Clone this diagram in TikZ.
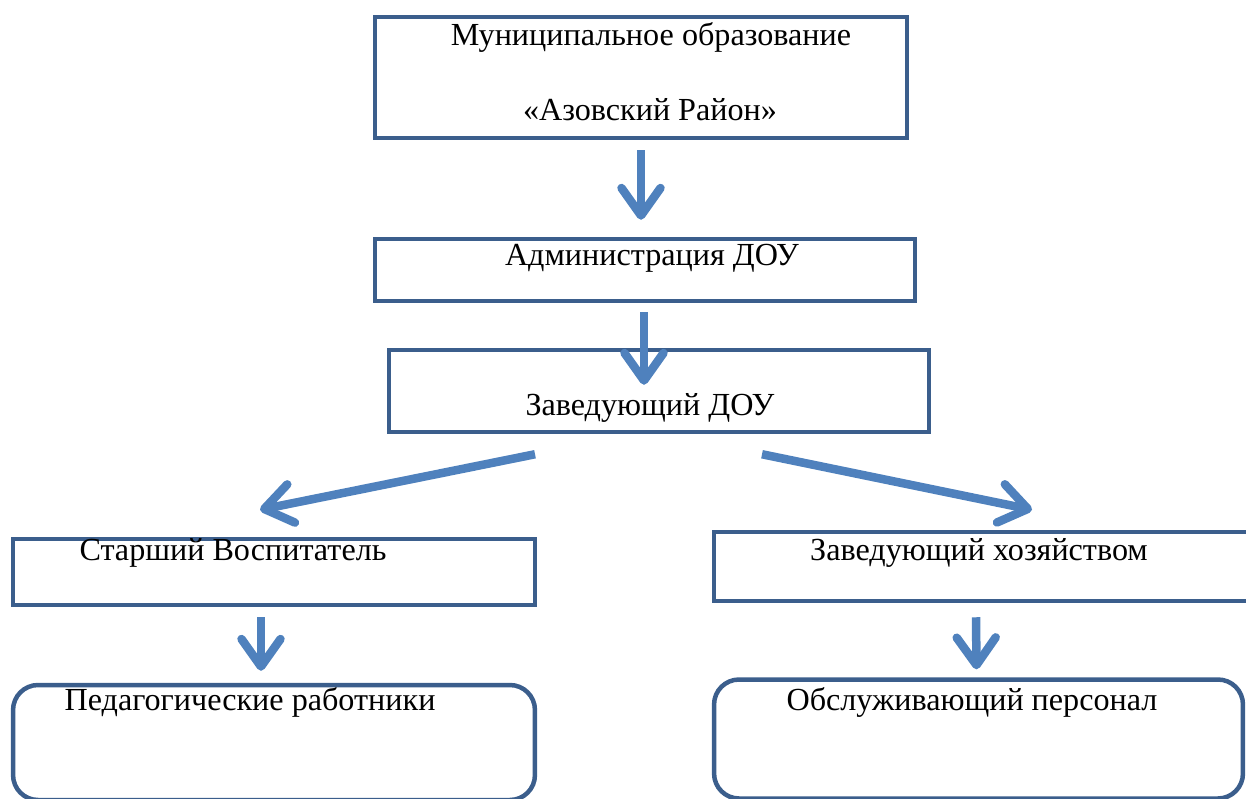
\documentclass[tikz,border=0pt]{standalone}
\usepackage{fontspec}
\setmainfont{Liberation Serif}
\usetikzlibrary{arrows.meta, positioning, calc}
\definecolor{boxblue}{RGB}{59,94,140}
\definecolor{arrblue}{RGB}{79,129,189}
\tikzset{
    box/.style={
        rectangle,
        draw=boxblue,
        line width=0.09cm,
        inner sep=0pt
    },
    roundbox/.style={
        box,
        rounded corners=0.5cm
    },
    caption/.style={
        font=\fontsize{18.3}{22}\selectfont,
        inner sep=0pt
    },
    link/.style={
        draw=arrblue,
        line width=0.17cm,
        -{Straight Barb[length=0.55cm, width=0.78cm, round]}
    }
}

\begin{document}
\begin{tikzpicture}[x=0.02cm, y=-0.02cm]
    \useasboundingbox (0,0) rectangle (1246,798);

    % Boxes
    \node (Municipality) [box, minimum width=10.64cm, minimum height=2.42cm] at (641,77.5) {};
    \node (Administration) [box, minimum width=10.8cm, minimum height=1.24cm] at (645,270) {};
    \node (Head) [box, minimum width=10.8cm, minimum height=1.64cm] at (659,391) {};
    \node (Senior) [box, minimum width=10.44cm, minimum height=1.32cm] at (274,572) {};
    \node (Supply) [box, minimum width=10.76cm, minimum height=1.38cm] at (983,566.5) {};
    \node (Teachers) [roundbox, minimum width=10.44cm, minimum height=2.3cm] at (274,742.5) {};
    \node (Staff) [roundbox, minimum width=10.58cm, minimum height=2.38cm] at (978.5,739) {};

    % Captions
    \node (MunicipalityA) [caption] at (651,37) {Муниципальное образование};
    \node (MunicipalityB) [caption] at (650,110) {«Азовский Район»};
    \node (AdministrationT) [caption] at (652,258) {Администрация ДОУ};
    \node (HeadT) [caption] at (650,408) {Заведующий ДОУ};
    \node (SeniorT) [caption] at (233,553) {Старший Воспитатель};
    \node (SupplyT) [caption] at (979,553) {Заведующий хозяйством};
    \node (TeachersT) [caption] at (250,702) {Педагогические работники};
    \node (StaffT) [caption] at (972,702) {Обслуживающий персонал};

    % Arrows
    \draw [link] ($(Municipality.south)+(0,10)$) -- ($(Administration.north)+(-4,-17)$);
    \draw [link] ($(Administration.south)+(-1,9)$) -- ($(Head.north)+(-15,37)$);
    \draw [link] ($(Head.south)+(-124,20)$) -- ($(Senior.north)+(-14,-27)$);
    \draw [link] ($(Head.south)+(103,20)$) -- ($(Supply.north)+(49,-20)$);
    \draw [link] ($(Senior.south)+(-13,10)$) -- ($(Teachers.north)+(-13,-12)$);
    \draw [link] ($(Supply.south)+(-7,14)$) -- ($(Staff.north)+(-2,-8)$);

\end{tikzpicture}
\end{document}
